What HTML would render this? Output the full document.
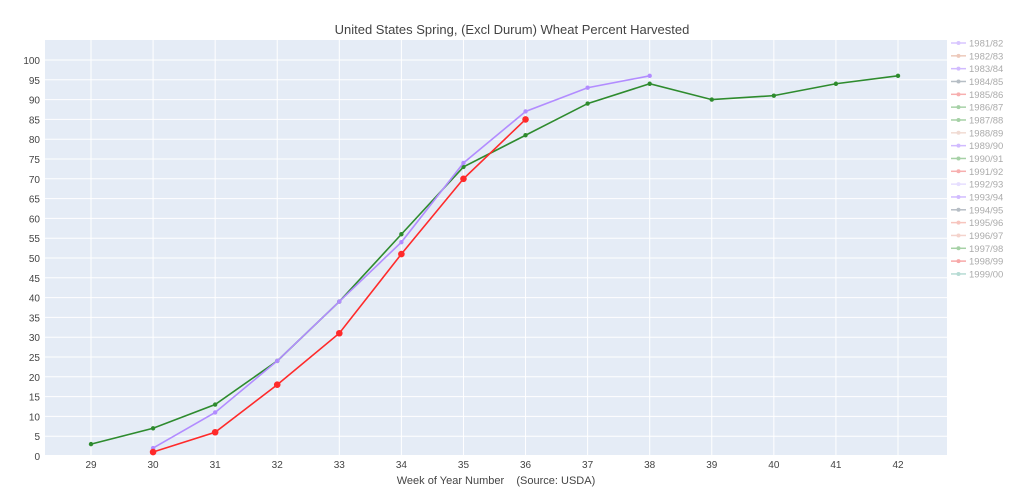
<!DOCTYPE html>
<html><head><meta charset="utf-8"><style>
body{margin:0;background:#fff;font-family:"Liberation Sans",sans-serif;}
svg text{font-family:"Liberation Sans",sans-serif;}
</style></head><body>
<svg id="chart" width="1024" height="499" xmlns="http://www.w3.org/2000/svg">
<rect x="45" y="40" width="902" height="416" fill="#e5ecf6"/>
<g id="grid"></g><g id="series"></g><g id="legend"></g>
<text x="512" y="34" text-anchor="middle" font-size="13" fill="#444">United States Spring, (Excl Durum) Wheat Percent Harvested</text>
<text x="496" y="484" text-anchor="middle" font-size="11" fill="#444">Week of Year Number &#160;&#160;&#160;(Source: USDA)</text>
</svg>
<script>
const xTicks=[29,30,31,32,33,34,35,36,37,38,39,40,41,42];
const yTicks=[0,5,10,15,20,25,30,35,40,45,50,55,60,65,70,75,80,85,90,95,100];
const greenWeeks=[29,30,31,32,33,34,35,36,37,38,39,40,41,42];
const greenVals=[3,7,13,24,39,56,73,81,89,94,90,91,94,96];
const purpleWeeks=[30,31,32,33,34,35,36,37,38];
const purpleVals=[2,11,24,39,54,74,87,93,96];
const redWeeks=[30,31,32,33,34,35,36];
const redVals=[1,6,18,31,51,70,85];
const legendLabels=["1981/82","1982/83","1983/84","1984/85","1985/86","1986/87","1987/88","1988/89","1989/90","1990/91","1991/92","1992/93","1993/94","1994/95","1995/96","1996/97","1997/98","1998/99","1999/00"];
const legendColors=["#ab82ff","#d98a6a","#9b6bff","#607080","#ee5050","#3c9a3c","#3c9a3c","#e0b0a0","#9b6bff","#3c9a3c","#ee5050","#c8b8ff","#9b6bff","#607080","#ee8070","#e8a090","#3c9a3c","#ee4040","#60b0a0"];
const NS="http://www.w3.org/2000/svg";
const X=v=>91+(v-29)*(898-91)/13;
const Y=v=>456-v*3.96;
function mk(t,a,p){const e=document.createElementNS(NS,t);for(const k in a)e.setAttribute(k,a[k]);p.appendChild(e);return e;}
const grid=document.getElementById('grid');
yTicks.forEach(v=>{
 const l=mk('line',{x1:45,x2:947,y1:Y(v),y2:Y(v),stroke:'#fff','stroke-width':v===0?2:1},grid);
 
 
 const t=mk('text',{x:40,y:Y(v)+4,'text-anchor':'end','font-size':10,fill:'#444'},grid);t.textContent=v;
 
 
});
xTicks.forEach(v=>{
 const l=mk('line',{x1:X(v),x2:X(v),y1:40,y2:456,stroke:'#fff','stroke-width':1},grid);
 
 
 const t=mk('text',{x:X(v),y:468,'text-anchor':'middle','font-size':10,fill:'#444'},grid);t.textContent=v;
 
 
});
const sg=document.getElementById('series');
function series(w,v,c,r,name){
 const p=mk('polyline',{points:w.map((x,i)=>X(x)+','+Y(v[i])).join(' '),fill:'none',stroke:c,'stroke-width':1.6},sg);
 
 
 w.forEach((x,i)=>{const m=mk('circle',{cx:X(x),cy:Y(v[i]),r:r,fill:c},sg);
 
 });
}
series(greenWeeks,greenVals,'#2e8b2e',2.2,'green-series');
series(purpleWeeks,purpleVals,'#b28cff',2.2,'purple-series');
series(redWeeks,redVals,'#ff2a2a',3.3,'red-series');
const lg=document.getElementById('legend');
legendLabels.forEach((s,i)=>{
 const y=43+i*12.83;
 const g=mk('g',{opacity:0.45},lg);
 
 
 mk('line',{x1:951,x2:966,y1:y,y2:y,stroke:legendColors[i],'stroke-width':1.5},g);
 mk('circle',{cx:958.5,cy:y,r:2,fill:legendColors[i]},g);
 const t=mk('text',{x:969,y:y+3.5,'font-size':9.5,fill:'#444'},g);t.textContent=s;
});
</script>
</body></html>
